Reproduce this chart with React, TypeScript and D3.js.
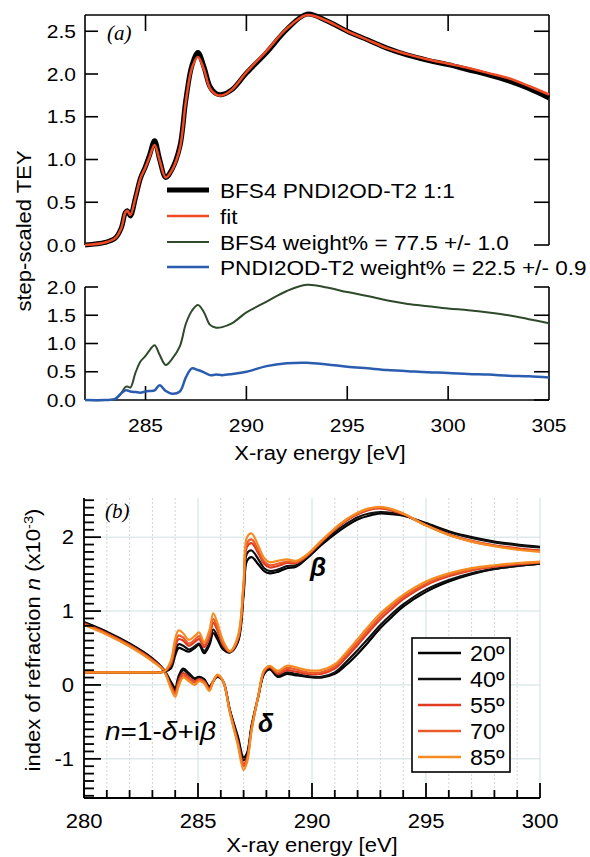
import React from 'react';
import * as d3 from 'd3';

// ---------- Panel (a) data ----------
const energyA = [282, 283, 283.5, 283.8, 284.0, 284.1, 284.25, 284.5, 284.75, 285.0, 285.2, 285.45, 285.7, 286.0, 286.3, 286.7, 287.0, 287.3, 287.6, 287.9, 288.2, 288.5, 288.8, 289.3, 290, 291, 292, 293, 294, 295, 296, 297, 298, 299, 300, 301, 302, 303, 304, 305];
const measured = [0.0, 0.03, 0.08, 0.2, 0.38, 0.40, 0.34, 0.55, 0.78, 0.92, 1.05, 1.22, 1.0, 0.79, 0.88, 1.15, 1.70, 2.10, 2.25, 2.08, 1.85, 1.77, 1.76, 1.82, 2.01, 2.25, 2.52, 2.70, 2.62, 2.50, 2.40, 2.30, 2.22, 2.16, 2.11, 2.05, 1.99, 1.92, 1.83, 1.72];
const fitted = [0.0, 0.03, 0.08, 0.2, 0.38, 0.40, 0.35, 0.55, 0.78, 0.91, 1.03, 1.17, 0.99, 0.79, 0.87, 1.13, 1.68, 2.07, 2.20, 2.05, 1.83, 1.76, 1.75, 1.82, 2.02, 2.27, 2.53, 2.69, 2.62, 2.50, 2.40, 2.30, 2.23, 2.17, 2.12, 2.07, 2.01, 1.95, 1.86, 1.76];
const bfs4 = [0, 0, 0.02, 0.12, 0.23, 0.24, 0.22, 0.48, 0.68, 0.78, 0.88, 0.97, 0.80, 0.62, 0.72, 0.95, 1.35, 1.58, 1.68, 1.55, 1.33, 1.28, 1.29, 1.36, 1.55, 1.74, 1.93, 2.04, 1.99, 1.91, 1.84, 1.76, 1.70, 1.66, 1.62, 1.59, 1.55, 1.50, 1.43, 1.36];
const pndi = [0, 0, 0.02, 0.12, 0.17, 0.17, 0.15, 0.14, 0.13, 0.15, 0.16, 0.17, 0.26, 0.16, 0.11, 0.15, 0.40, 0.56, 0.53, 0.49, 0.44, 0.45, 0.44, 0.46, 0.50, 0.60, 0.65, 0.66, 0.63, 0.59, 0.56, 0.53, 0.51, 0.49, 0.48, 0.46, 0.45, 0.43, 0.42, 0.40];
const legendA = ['BFS4 PNDI2OD-T2 1:1', 'fit', 'BFS4 weight% = 77.5 +/- 1.0', 'PNDI2OD-T2 weight% = 22.5 +/- 0.9'];
const xTicksA = [285, 290, 295, 300, 305];
const yTicksA1 = [0, 0.5, 1, 1.5, 2, 2.5];
const yTicksA2 = [0, 0.5, 1, 1.5, 2];

// ---------- Panel (b) data ----------
const energyB = [280, 281, 282, 283, 283.5, 283.8, 284.0, 284.15, 284.35, 284.6, 284.85, 285.05, 285.27, 285.5, 285.67, 285.85, 286.1, 286.4, 286.75, 287.0, 287.15, 287.35, 287.65, 287.9, 288.15, 288.5, 288.9, 289.3, 289.8, 290.4, 291, 291.5, 292, 292.5, 293, 293.5, 294, 295, 296, 297, 298, 299, 300];
const beta20 = [0.17, 0.17, 0.17, 0.17, 0.18, 0.22, 0.40, 0.50, 0.48, 0.45, 0.50, 0.54, 0.43, 0.54, 0.70, 0.62, 0.48, 0.44, 0.58, 1.22, 1.68, 1.73, 1.63, 1.54, 1.51, 1.53, 1.58, 1.60, 1.72, 1.89, 2.04, 2.15, 2.24, 2.29, 2.32, 2.31, 2.29, 2.19, 2.08, 2.00, 1.94, 1.90, 1.87];
const beta40 = [0.17, 0.17, 0.17, 0.17, 0.18, 0.24, 0.45, 0.55, 0.53, 0.48, 0.52, 0.56, 0.46, 0.57, 0.75, 0.66, 0.50, 0.44, 0.60, 1.27, 1.78, 1.82, 1.70, 1.58, 1.54, 1.56, 1.61, 1.62, 1.73, 1.91, 2.07, 2.18, 2.27, 2.32, 2.34, 2.33, 2.30, 2.18, 2.07, 1.99, 1.93, 1.89, 1.86];
const beta55 = [0.17, 0.17, 0.17, 0.17, 0.18, 0.27, 0.52, 0.62, 0.60, 0.53, 0.58, 0.62, 0.51, 0.64, 0.84, 0.74, 0.54, 0.45, 0.62, 1.32, 1.87, 1.92, 1.78, 1.64, 1.59, 1.61, 1.65, 1.65, 1.75, 1.93, 2.10, 2.22, 2.31, 2.37, 2.39, 2.36, 2.31, 2.16, 2.04, 1.95, 1.89, 1.85, 1.82];
const beta70 = [0.17, 0.17, 0.17, 0.17, 0.18, 0.29, 0.56, 0.67, 0.64, 0.56, 0.61, 0.66, 0.54, 0.68, 0.89, 0.78, 0.56, 0.45, 0.63, 1.35, 1.92, 1.97, 1.82, 1.67, 1.62, 1.64, 1.67, 1.66, 1.76, 1.94, 2.11, 2.23, 2.32, 2.38, 2.40, 2.37, 2.32, 2.16, 2.03, 1.94, 1.88, 1.84, 1.81];
const beta85 = [0.17, 0.17, 0.17, 0.17, 0.18, 0.32, 0.62, 0.74, 0.70, 0.61, 0.66, 0.71, 0.58, 0.74, 0.97, 0.84, 0.60, 0.46, 0.66, 1.40, 2.00, 2.05, 1.88, 1.72, 1.66, 1.68, 1.70, 1.68, 1.77, 1.95, 2.12, 2.24, 2.33, 2.39, 2.41, 2.38, 2.32, 2.16, 2.03, 1.94, 1.88, 1.83, 1.80];
const delta20 = [0.85, 0.72, 0.56, 0.36, 0.21, 0.05, -0.04, 0.12, 0.22, 0.16, 0.09, 0.11, 0.08, -0.02, 0.05, 0.11, 0.05, -0.34, -0.70, -0.98, -0.92, -0.55, -0.15, 0.15, 0.21, 0.11, 0.15, 0.13, 0.11, 0.10, 0.15, 0.27, 0.42, 0.59, 0.77, 0.92, 1.06, 1.26, 1.40, 1.50, 1.57, 1.61, 1.64];
const delta40 = [0.84, 0.71, 0.55, 0.35, 0.20, 0.03, -0.07, 0.09, 0.20, 0.14, 0.08, 0.10, 0.07, -0.03, 0.05, 0.12, 0.05, -0.35, -0.73, -1.02, -0.95, -0.57, -0.15, 0.16, 0.22, 0.13, 0.17, 0.15, 0.12, 0.11, 0.17, 0.31, 0.47, 0.64, 0.81, 0.96, 1.09, 1.29, 1.42, 1.51, 1.57, 1.61, 1.64];
const delta55 = [0.83, 0.70, 0.54, 0.34, 0.20, 0.0, -0.10, 0.05, 0.16, 0.10, 0.05, 0.08, 0.05, -0.05, 0.05, 0.13, 0.05, -0.36, -0.77, -1.07, -0.99, -0.59, -0.14, 0.18, 0.24, 0.15, 0.20, 0.18, 0.15, 0.15, 0.22, 0.37, 0.54, 0.72, 0.89, 1.03, 1.16, 1.35, 1.47, 1.55, 1.60, 1.63, 1.66];
const delta70 = [0.82, 0.69, 0.53, 0.33, 0.19, -0.02, -0.12, 0.02, 0.13, 0.08, 0.03, 0.07, 0.04, -0.06, 0.05, 0.13, 0.05, -0.37, -0.79, -1.10, -1.01, -0.60, -0.14, 0.19, 0.25, 0.17, 0.23, 0.21, 0.17, 0.17, 0.25, 0.41, 0.58, 0.76, 0.93, 1.07, 1.19, 1.37, 1.49, 1.56, 1.61, 1.64, 1.66];
const delta85 = [0.81, 0.68, 0.52, 0.32, 0.19, -0.04, -0.16, -0.02, 0.10, 0.05, 0.0, 0.05, 0.02, -0.08, 0.05, 0.14, 0.05, -0.38, -0.82, -1.15, -1.05, -0.62, -0.14, 0.20, 0.26, 0.19, 0.26, 0.24, 0.20, 0.20, 0.28, 0.44, 0.62, 0.80, 0.97, 1.10, 1.22, 1.40, 1.51, 1.58, 1.62, 1.65, 1.67];
const angles = ['20º', '40º', '55º', '70º', '85º'];
const xTicksB = [280, 285, 290, 295, 300];
const yTicksB = [-1, 0, 1, 2];

const SANS = "'Liberation Sans', Arial, Helvetica, sans-serif";
const SERIF = "'Liberation Serif', 'Times New Roman', serif";

type TxtProps = { x: number; y: number; size: number; sx?: number; anchor?: string; rot?: number; children?: React.ReactNode; [k: string]: any };
const Txt = ({ x, y, size, sx = 1.13, anchor = 'start', rot = 0, children, ...rest }: TxtProps) => (
  <text transform={`translate(${x},${y}) rotate(${rot}) scale(${sx},1)`} fontSize={size} textAnchor={anchor} fontFamily={SANS} fill="#000" {...rest}>
    {children}
  </text>
);

export default function App() {
  // Panel (a) scales
  const xA = d3.scaleLinear().domain([282, 305]).range([85, 549]);
  const yA1 = d3.scaleLinear().domain([0, 2.69]).range([245, 15]);
  const yA2 = d3.scaleLinear().domain([0, 2]).range([400, 287]);
  const lineA1 = (vals: number[]) =>
    d3.line<number>().x((_, i) => xA(energyA[i])).y((d) => yA1(d)).curve(d3.curveCatmullRom.alpha(0.5))(vals) || '';
  const lineA2 = (vals: number[]) =>
    d3.line<number>().x((_, i) => xA(energyA[i])).y((d) => yA2(d)).curve(d3.curveCatmullRom.alpha(0.5))(vals) || '';

  // Panel (b) scales
  const xB = d3.scaleLinear().domain([280, 300]).range([84, 540]);
  const yB = d3.scaleLinear().domain([-1.53, 2.53]).range([798, 498]);
  const lineB = (vals: number[]) =>
    d3.line<number>().x((_, i) => xB(energyB[i])).y((d) => yB(d)).curve(d3.curveCatmullRom.alpha(0.5))(vals) || '';

  const fmt1 = d3.format('.1f');
  const legendStylesA = [
    { color: '#000', w: 5 },
    { color: '#f04a25', w: 2.5 },
    { color: '#2e4a2b', w: 2 },
    { color: '#2a5db0', w: 2.5 },
  ];
  const angleColors = ['#000000', '#111111', '#e03a22', '#ea5a2a', '#f58c22'];
  const betas = [beta20, beta40, beta55, beta70, beta85];
  const deltas = [delta20, delta40, delta55, delta70, delta85];

  const minorX = d3.range(280, 301, 1);
  const minorY = d3.range(-15, 26, 1).map((v) => v / 10);

  return (
    <svg width={590} height={857} style={{ position: 'absolute', left: 0, top: 0, background: '#fff' }}>
      <rect x={0} y={0} width={590} height={857} fill="#fff" />

      {/* ===== Panel (a) ===== */}
      <g stroke="#000" strokeWidth={1.6} fill="none">
        <line x1={85} x2={549} y1={15} y2={15} />
        <line x1={85} x2={85} y1={15} y2={245} />
        <line x1={549} x2={549} y1={15} y2={245} />
        <line x1={85} x2={85} y1={287} y2={400} />
        <line x1={549} x2={549} y1={287} y2={400} />
        <line x1={85} x2={549} y1={400} y2={400} />
        {yTicksA1.map((t) => (
          <g key={'a1' + t}>
            <line x1={85} x2={98} y1={yA1(t)} y2={yA1(t)} />
            <line x1={534} x2={549} y1={yA1(t)} y2={yA1(t)} />
          </g>
        ))}
        {yTicksA2.map((t) => (
          <g key={'a2' + t}>
            <line x1={85} x2={98} y1={yA2(t)} y2={yA2(t)} />
            <line x1={534} x2={549} y1={yA2(t)} y2={yA2(t)} />
          </g>
        ))}
        {xTicksA.filter((t) => t < 305).map((t) => (
          <g key={'ax' + t}>
            <line x1={xA(t)} x2={xA(t)} y1={15} y2={31} />
            <line x1={xA(t)} x2={xA(t)} y1={400} y2={386} />
          </g>
        ))}
      </g>
      {yTicksA1.map((t) => (
        <Txt key={'la1' + t} x={76} y={yA1(t) + 6.7} size={18.6} anchor="end">{fmt1(t)}</Txt>
      ))}
      {yTicksA2.map((t) => (
        <Txt key={'la2' + t} x={76} y={yA2(t) + 6.7} size={18.6} anchor="end">{fmt1(t)}</Txt>
      ))}
      {xTicksA.map((t) => (
        <Txt key={'lax' + t} x={xA(t)} y={432} size={18.6} anchor="middle">{String(t)}</Txt>
      ))}
      <Txt x={320} y={460} size={19.5} anchor="middle">X-ray energy [eV]</Txt>
      <Txt x={31} y={231} size={19.5} anchor="middle" rot={-90}>step-scaled TEY</Txt>
      <text x={107} y={40} fontFamily={SERIF} fontStyle="italic" fontSize={21}>(a)</text>

      {/* curves */}
      <path d={lineA1(measured)} fill="none" stroke="#000" strokeWidth={5} strokeLinejoin="round" />
      <path d={lineA1(fitted)} fill="none" stroke="#f04a25" strokeWidth={2.5} strokeLinejoin="round" />
      <path d={lineA2(bfs4)} fill="none" stroke="#2e4a2b" strokeWidth={2} strokeLinejoin="round" />
      <path d={lineA2(pndi)} fill="none" stroke="#2a5db0" strokeWidth={2.5} strokeLinejoin="round" />

      {/* legend (a) */}
      {legendA.map((lab, i) => {
        const cy = [190, 216, 242, 267][i];
        return (
          <g key={'lgA' + i}>
            <line x1={167} x2={209} y1={cy} y2={cy} stroke={legendStylesA[i].color} strokeWidth={legendStylesA[i].w} />
            <Txt x={220} y={cy + 7.5} size={20}>{lab}</Txt>
          </g>
        );
      })}

      {/* ===== Panel (b) ===== */}
      <g>
        {minorX.map((e) => (
          <line key={'gx' + e} x1={xB(e)} x2={xB(e)} y1={498} y2={798}
            stroke={e % 5 === 0 ? '#cfdfe0' : '#d4d4d4'} strokeWidth={1}
            strokeDasharray={e % 5 === 0 ? undefined : '2,2'} />
        ))}
        {yTicksB.map((v) => (
          <line key={'gy' + v} x1={84} x2={540} y1={yB(v)} y2={yB(v)} stroke="#cfdfe0" strokeWidth={1} />
        ))}
      </g>

      {deltas.map((d, i) => (
        <path key={'d' + i} d={lineB(d)} fill="none" stroke={angleColors[i]} strokeWidth={2.2} strokeLinejoin="round" />
      ))}
      {betas.map((d, i) => (
        <path key={'b' + i} d={lineB(d)} fill="none" stroke={angleColors[i]} strokeWidth={2.2} strokeLinejoin="round" />
      ))}

      <g stroke="#000" strokeWidth={1.8}>
        <line x1={84} x2={84} y1={498} y2={798} />
        <line x1={84} x2={540} y1={798} y2={798} />
        {minorX.map((e) => (
          <line key={'tx' + e} x1={xB(e)} x2={xB(e)} y1={798} y2={e % 5 === 0 ? 783 : 790} />
        ))}
        {minorY.map((v) => (
          <line key={'ty' + v} x1={84} x2={Math.abs(v - Math.round(v)) < 1e-6 ? 101 : 94} y1={yB(v)} y2={yB(v)} />
        ))}
      </g>
      {yTicksB.map((t) => (
        <Txt key={'lby' + t} x={74} y={yB(t) + 6.9} size={19.5} anchor="end">{String(t)}</Txt>
      ))}
      {xTicksB.map((t) => (
        <Txt key={'lbx' + t} x={xB(t)} y={828} size={19.5} anchor="middle">{String(t)}</Txt>
      ))}
      <Txt x={xB(290)} y={852} size={19.5} anchor="middle">X-ray energy [eV]</Txt>
      <Txt x={40} y={640} size={19.5} anchor="middle" rot={-90}>
        index of refraction <tspan fontStyle="italic">n</tspan> (x10<tspan dy={-7} fontSize={13}>-3</tspan><tspan dy={7}>)</tspan>
      </Txt>
      <text x={105} y={518} fontFamily={SERIF} fontStyle="italic" fontSize={21}>(b)</text>

      <Txt x={310} y={576} size={26} sx={1.0} fontWeight="bold" fontStyle="italic">β</Txt>
      <Txt x={258} y={732} size={25} sx={1.0} fontWeight="bold" fontStyle="italic">δ</Txt>
      <Txt x={105} y={740} size={25} sx={1.12}>
        <tspan fontStyle="italic">n</tspan>=1-<tspan fontStyle="italic">δ</tspan>+i<tspan fontStyle="italic">β</tspan>
      </Txt>

      <rect x={412} y={638} width={98} height={134} fill="#fff" stroke="#000" strokeWidth={1.6} />
      {angles.map((a, i) => {
        const cy = 653 + i * 26;
        return (
          <g key={'lgB' + i}>
            <line x1={418} x2={461} y1={cy} y2={cy} stroke={angleColors[i]} strokeWidth={2.5} />
            <Txt x={470} y={cy + 8} size={22} sx={1.06}>{a}</Txt>
          </g>
        );
      })}
    </svg>
  );
}
